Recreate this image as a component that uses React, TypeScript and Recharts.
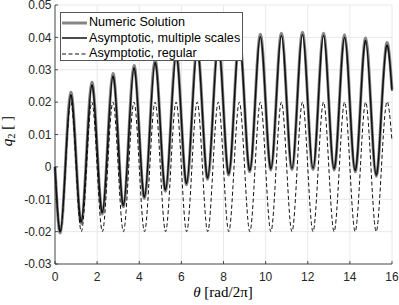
import React from 'react';
import { LineChart, Line, XAxis, YAxis, CartesianGrid, Legend, Label } from 'recharts';

// theta in rad/2pi, sampled every quarter period
const theta = [
    0, 0.25, 0.5, 0.75, 1, 1.25, 1.5, 1.75, 2, 2.25, 2.5, 2.75, 3, 3.25, 3.5, 3.75,
    4, 4.25, 4.5, 4.75, 5, 5.25, 5.5, 5.75, 6, 6.25, 6.5, 6.75, 7, 7.25, 7.5, 7.75,
    8, 8.25, 8.5, 8.75, 9, 9.25, 9.5, 9.75, 10, 10.25, 10.5, 10.75, 11, 11.25, 11.5, 11.75,
    12, 12.25, 12.5, 12.75, 13, 13.25, 13.5, 13.75, 14, 14.25, 14.5, 14.75, 15, 15.25, 15.5, 15.75,
    16,
];

const numeric = [
    0, -0.0204, 0.0013, 0.0230, 0.0028, -0.0174, 0.0044, 0.0261, 0.0058, -0.0145, 0.0072, 0.0288, 0.0083, -0.0123, 0.0095, 0.0313,
    0.0108, -0.0097, 0.0117, 0.0330, 0.0128, -0.0075, 0.0139, 0.0353, 0.0149, -0.0055, 0.0159, 0.0373, 0.0168, -0.0038, 0.0175, 0.0388,
    0.0182, -0.0025, 0.0188, 0.0400, 0.0193, -0.0015, 0.0198, 0.0410, 0.0200, -0.0010, 0.0202, 0.0413, 0.0203, -0.0008, 0.0204, 0.0416,
    0.0204, -0.0008, 0.0203, 0.0413, 0.0202, -0.0010, 0.0199, 0.0408, 0.0197, -0.0015, 0.0192, 0.0398, 0.0185, -0.0029, 0.0177, 0.0383,
    0.0240,
];

const multipleScales = [
    0, -0.0200, 0.0010, 0.0222, 0.0026, -0.0170, 0.0042, 0.0253, 0.0056, -0.0141, 0.0070, 0.0280, 0.0081, -0.0119, 0.0093, 0.0305,
    0.0106, -0.0093, 0.0115, 0.0322, 0.0126, -0.0071, 0.0137, 0.0345, 0.0147, -0.0051, 0.0157, 0.0365, 0.0166, -0.0034, 0.0173, 0.0380,
    0.0180, -0.0021, 0.0186, 0.0392, 0.0191, -0.0011, 0.0196, 0.0402, 0.0198, -0.0006, 0.0200, 0.0405, 0.0201, -0.0004, 0.0202, 0.0408,
    0.0202, -0.0004, 0.0201, 0.0405, 0.0200, -0.0006, 0.0197, 0.0400, 0.0195, -0.0011, 0.0190, 0.0390, 0.0183, -0.0025, 0.0175, 0.0375,
    0.0235,
];

const regular = [
    0, -0.02, 0, 0.02, 0, -0.02, 0, 0.02, 0, -0.02, 0, 0.02, 0, -0.02, 0, 0.02,
    0, -0.02, 0, 0.02, 0, -0.02, 0, 0.02, 0, -0.02, 0, 0.02, 0, -0.02, 0, 0.02,
    0, -0.02, 0, 0.02, 0, -0.02, 0, 0.02, 0, -0.02, 0, 0.02, 0, -0.02, 0, 0.02,
    0, -0.02, 0, 0.02, 0, -0.02, 0, 0.02, 0, -0.02, 0, 0.02, 0, -0.02, 0, 0.02,
    0.008,
];

const xTicks = [0, 2, 4, 6, 8, 10, 12, 14, 16];
const yTicks = [-0.03, -0.02, -0.01, 0, 0.01, 0.02, 0.03, 0.04, 0.05];

const data = theta.map((t, i) => ({
    theta: t,
    numeric: numeric[i],
    multiple: multipleScales[i],
    regular: regular[i],
}));

const AXIS = '#262626';
const SANS = '"Liberation Sans", Arial, sans-serif';
const SERIF = '"Liberation Serif", "DejaVu Serif", serif';

const fmtY = (v: number) => (v === 0 ? '0' : v.toFixed(2));

const XTick = (props: any) => {
    const { x, y, payload } = props;
    const axisY = y - 2;
    return (
        <g>
            <line x1={x} x2={x} y1={axisY} y2={axisY - 3} stroke={AXIS} strokeWidth={0.8} />
            <text x={x} y={axisY + 16.5} textAnchor="middle" fill={AXIS} fontSize={12} fontFamily={SANS}>
                {payload.value}
            </text>
        </g>
    );
};

const YTick = (props: any) => {
    const { x, y, payload } = props;
    const axisX = x + 3.5;
    return (
        <g>
            <line x1={axisX} x2={axisX + 3} y1={y} y2={y} stroke={AXIS} strokeWidth={0.8} />
            <text x={x} y={y + 4.3} textAnchor="end" fill={AXIS} fontSize={12} fontFamily={SANS}>
                {fmtY(payload.value)}
            </text>
        </g>
    );
};

const legendItems = [
    { label: 'Numeric Solution', color: '#858585', width: 3, dash: undefined },
    { label: 'Asymptotic, multiple scales', color: '#111', width: 1.5, dash: undefined },
    { label: 'Asymptotic, regular', color: '#111', width: 1, dash: '4 2.5' },
];

const LegendBox = () => (
    <div
        style={{
            background: '#fff',
            border: '1px solid #555',
            width: 183,
            height: 49,
            boxSizing: 'border-box',
            paddingTop: 2,
            fontFamily: SANS,
            fontSize: 12.6,
            color: '#000',
        }}
    >
        {legendItems.map((it) => (
            <div key={it.label} style={{ display: 'flex', alignItems: 'center', height: 15.5 }}>
                <svg width={28} height={8} style={{ flex: 'none' }}>
                    <line x1={1} x2={26} y1={4} y2={4} stroke={it.color} strokeWidth={it.width} strokeDasharray={it.dash} />
                </svg>
                <span style={{ whiteSpace: 'nowrap', lineHeight: '15px' }}>{it.label}</span>
            </div>
        ))}
    </div>
);

const YLabel = () => (
    <text transform="translate(11.5,131) rotate(-90)" textAnchor="middle" fontFamily={SERIF} fontSize={15} fill="#000">
        <tspan fontStyle="italic">q</tspan>
        <tspan fontSize={10.5} dy={3}>2</tspan>
        <tspan dy={-3}>{' [ ]'}</tspan>
    </text>
);

const XLabel = () => (
    <text x={223} y={297} textAnchor="middle" fontFamily={SERIF} fontSize={15} fill="#000">
        <tspan fontStyle="italic">θ</tspan>
        <tspan>{' [rad/2π]'}</tspan>
    </text>
);

export default function App() {
    return (
        <div style={{ position: 'absolute', left: 0, top: 0, width: 399, height: 305, background: '#fff' }}>
            <LineChart width={399} height={305} data={data} margin={{ top: 5, right: 7, left: 0, bottom: 0 }}>
                <CartesianGrid stroke="#e8e8e8" strokeWidth={1} />
                <XAxis
                    dataKey="theta"
                    type="number"
                    domain={[0, 16]}
                    ticks={xTicks}
                    height={41}
                    tickSize={0}
                    tickMargin={2}
                    tickLine={false}
                    axisLine={{ stroke: AXIS, strokeWidth: 0.8 }}
                    tick={<XTick />}
                    interval={0}
                >
                    <Label content={<XLabel />} />
                </XAxis>
                <YAxis
                    type="number"
                    domain={[-0.03, 0.05]}
                    ticks={yTicks}
                    width={55}
                    tickSize={0}
                    tickMargin={3.5}
                    tickLine={false}
                    axisLine={{ stroke: AXIS, strokeWidth: 0.8 }}
                    tick={<YTick />}
                    interval={0}
                >
                    <Label content={<YLabel />} />
                </YAxis>
                <Legend
                    layout="vertical"
                    align="center"
                    verticalAlign="middle"
                    content={<LegendBox />}
                    wrapperStyle={{ position: 'absolute', left: 60, top: 12, width: 'auto' }}
                />
                <Line
                    dataKey="numeric"
                    type="natural"
                    stroke="#858585"
                    strokeWidth={3}
                    dot={false}
                    isAnimationActive={false}
                />
                <Line
                    dataKey="multiple"
                    type="natural"
                    stroke="#111"
                    strokeWidth={1.5}
                    dot={false}
                    isAnimationActive={false}
                />
                <Line
                    dataKey="regular"
                    type="natural"
                    stroke="#111"
                    strokeWidth={1}
                    strokeDasharray="4 2.5"
                    dot={false}
                    isAnimationActive={false}
                />
            </LineChart>
        </div>
    );
}
